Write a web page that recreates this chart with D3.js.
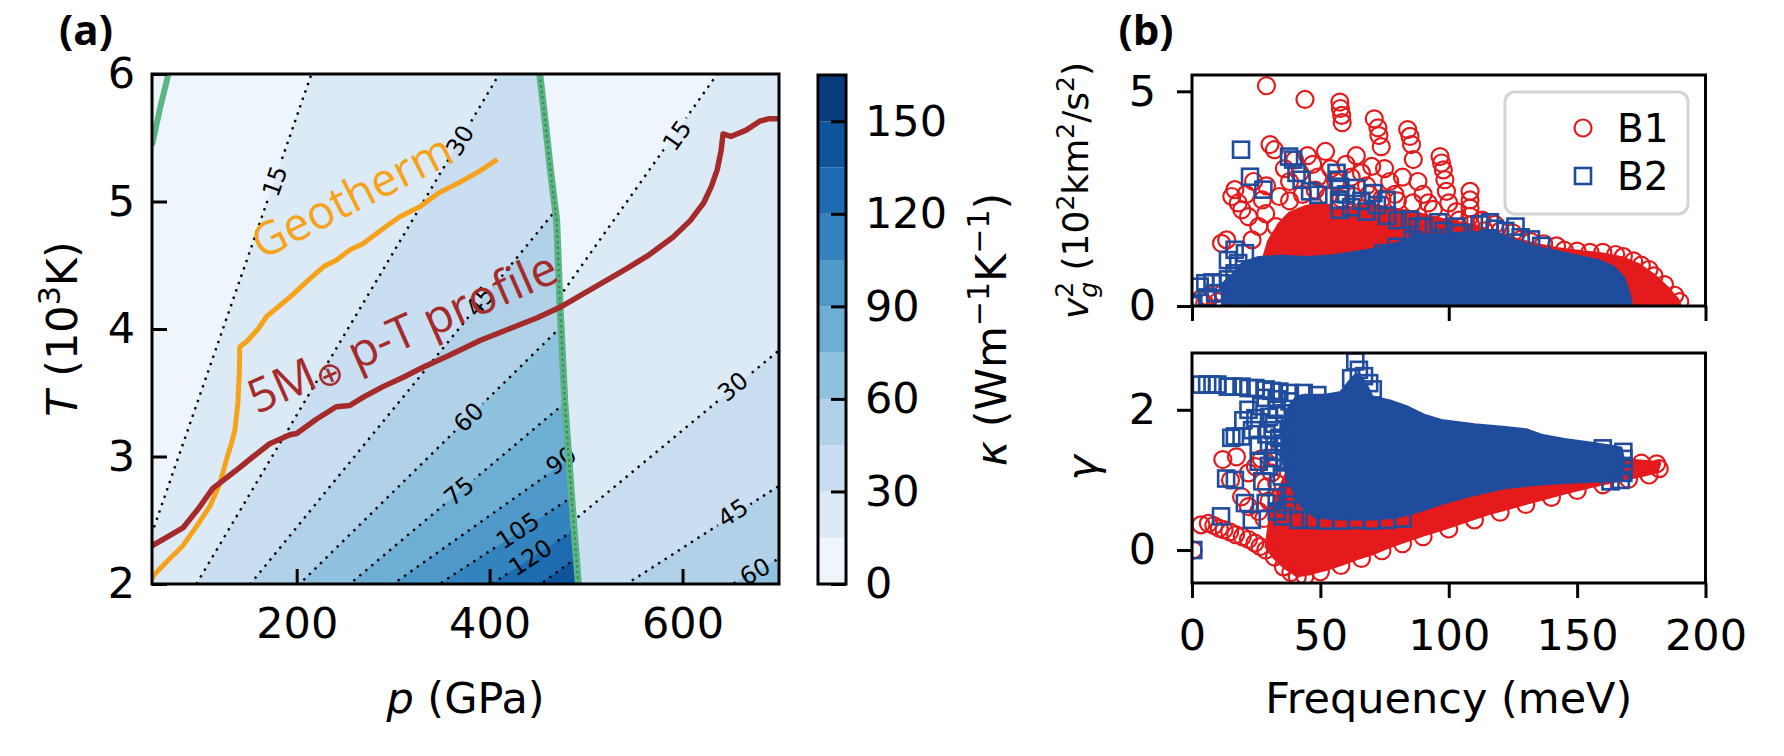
<!DOCTYPE html>
<html>
<head>
<meta charset="utf-8">
<script src="https://cdn.jsdelivr.net/npm/d3@7"></script>
<style>
  body { margin: 0; background: #fff; }
  svg { display: block; font-family: "DejaVu Sans", sans-serif; }
</style>
</head>
<body>
<script>
// ---------- panel (a): kappa map, p (GPa) vs T (10^3 K) ----------
var kappaLevels = [0, 15, 30, 45, 60, 75, 90, 105, 120, 135, 150, 165];
var colorbarTicks = [0, 30, 60, 90, 120, 150];

// dotted iso-kappa lines of the low pressure phase, [p, T] end points
var b1Levels = [15, 30, 45, 60, 75, 90, 105, 120, 135];
var b1Lines = [
  [[50, 2.40], [213, 5.95]],
  [[96, 2.00], [410, 6.00]],
  [[152, 2.00], [464, 4.89]],
  [[203, 2.00], [473, 4.01]],
  [[255, 2.00], [478, 3.42]],
  [[300, 2.00], [481, 2.97]],
  [[348, 2.00], [485, 2.68]],
  [[402, 2.00], [487, 2.42]],
  [[453, 2.00], [489, 2.20]]
];
var b1Labels = [[177, 5.16, 15], [369, 5.48, 30], [390, 4.22, 45], [378, 3.31, 60],
                [368, 2.73, 75], [474, 2.97, 90], [429, 2.42, 105], [442, 2.21, 120]];

// high pressure phase
var b2Levels = [15, 30, 45, 60];
var b2Lines = [
  [[476, 4.29], [636, 6.00]],
  [[494, 2.54], [698, 3.82]],
  [[542, 2.00], [698, 2.76]],
  [[652, 2.00], [700, 2.20]]
];
var b2Labels = [[594, 5.52, 15], [652, 3.55, 30], [652, 2.56, 45], [675, 2.10, 60]];

var phaseBoundary = [[452, 6.0], [458, 5.6], [463, 5.25], [469.5, 4.85], [473, 4.18],
                     [478, 3.42], [485, 2.68], [492, 2.0]];
var meltBoundary = [[50, 5.44], [58, 5.72], [67, 6.0]];

var geotherm = [[50, 2.04], [52, 2.07], [66, 2.18], [82, 2.30], [96, 2.45], [110, 2.61],
  [120, 2.78], [127, 2.97], [133, 3.12], [136, 3.21], [139, 3.42], [140.5, 3.65], [141, 3.86],
  [148, 3.90], [160, 4.00], [169, 4.10], [193, 4.25], [210, 4.37], [228, 4.49], [241, 4.54],
  [255, 4.62], [269, 4.67], [290, 4.79], [307, 4.88], [328, 4.96], [348, 5.07], [369, 5.15],
  [390, 5.24], [408, 5.33]];

var planetProfile = [[50, 2.30], [66, 2.37], [82, 2.44], [98, 2.59], [113, 2.75], [137, 2.89],
  [155, 3.00], [172, 3.10], [193, 3.17], [200, 3.18], [220, 3.29], [241, 3.39], [255, 3.40],
  [270, 3.47], [290, 3.55], [310, 3.62], [331, 3.70], [360, 3.80], [390, 3.91], [420, 4.00],
  [450, 4.09], [473, 4.17], [505, 4.31], [539, 4.46], [565, 4.58], [590, 4.72], [608, 4.85],
  [622, 4.99], [630, 5.12], [636, 5.25], [640, 5.40], [642, 5.53], [650, 5.51], [666, 5.56],
  [680, 5.63], [690, 5.65], [700, 5.65]];

// ---------- panel (b): phonon group velocity^2 and Grueneisen gamma ----------
// dense cores (outline of the overlapping markers) and single markers, [meV, value]
var v2B1Core = [[26, 0], [27, 0.9], [30, 1.5], [34, 1.9], [38, 2.15], [44, 2.3], [50, 2.38],
  [56, 2.25], [62, 2.28], [70, 2.35], [78, 2.25], [86, 2.18], [94, 2.05], [102, 1.95], [110, 1.85],
  [118, 1.7], [126, 1.55], [134, 1.42], [142, 1.33], [152, 1.25], [160, 1.2], [167, 1.12],
  [174, 0.95], [180, 0.7], [185, 0.42], [189, 0.15], [190, 0]];
var v2B1Points = [[29, 5.13], [44, 4.81], [57.6, 4.75], [57.8, 4.6], [58.3, 4.44], [58.5, 4.27],
  [71, 4.36], [72.4, 4.15], [72.8, 3.97], [73.7, 3.71], [84, 4.11], [84.9, 3.95], [85.5, 3.76],
  [86.2, 3.41], [96.6, 3.48], [97.2, 3.33], [97.9, 3.17], [98.5, 2.94], [99.1, 2.67],
  [108.3, 2.67], [108.3, 2.47], [108.3, 2.28], [108.3, 2.09], [108.5, 1.89],
  [30.4, 3.76], [32.1, 3.64], [16.7, 2.71], [18, 2.4], [19.4, 2.24], [22, 2.08], [27.4, 2.47],
  [28.7, 2.15], [34, 2.55], [32.7, 1.85], [26, 1.85], [23.4, 1.54], [13.5, 1.54], [11.5, 1.46],
  [15.5, 2.55], [21, 2.6], [24, 2.9], [29, 2.8],
  [36, 3.2], [38, 2.9], [40, 3.4], [42, 3.1], [45, 3.5], [47, 3.3], [49, 3.0], [52, 3.6],
  [54, 3.2], [56, 2.9], [60, 3.3], [62, 3.0], [64, 3.5], [66, 3.1], [68, 2.8], [70, 3.25],
  [75, 3.2], [77, 2.9], [79, 2.6], [82, 3.0], [88, 2.9], [90, 2.6], [92, 2.4], [100, 2.4],
  [103, 2.2], [104, 2.0], [113, 2.0], [118, 1.9], [114, 1.75], [120, 1.75], [125, 1.7],
  [128, 1.55], [132, 1.5], [137, 1.45], [142, 1.4],
  [38, 2.45], [43, 2.6], [48, 2.7], [53, 2.55], [58, 2.5], [63, 2.55], [69, 2.6], [74, 2.5],
  [80, 2.45], [86, 2.4], [94, 2.25],
  [145, 1.3], [150, 1.28], [155, 1.25], [160, 1.25], [165, 1.2], [168, 1.15], [172, 1.05],
  [175, 0.95], [178, 0.85], [180, 0.7], [184, 0.5], [188, 0.25], [190, 0.1],
  [3, 0.15], [6, 0.22], [9, 0.28], [12, 0.3], [15, 0.22], [18, 0.35], [21, 0.3], [24, 0.4],
  [5, 0.06], [10, 0.1], [0.5, 0.02]];
var v2B2Core = [[12, 0], [12, 0.5], [16, 0.72], [20, 1.0], [26, 1.12], [35, 1.15], [45, 1.12],
  [55, 1.16], [65, 1.25], [73, 1.33], [80, 1.45], [86, 1.6], [95, 1.66], [105, 1.68], [113, 1.7],
  [118, 1.7], [124, 1.55], [132, 1.38], [140, 1.28], [150, 1.15], [158, 1.05], [164, 0.9],
  [168, 0.65], [170, 0.3], [171, 0]];
var v2B2Points = [[19.1, 3.64], [22.6, 3.01], [27.8, 2.71], [37.8, 3.48], [39.4, 3.41],
  [40.7, 3.1], [42.7, 2.94], [46, 2.67], [49.2, 2.59], [56.3, 3.1], [57, 2.94], [57.6, 2.78],
  [57.3, 2.47], [57.6, 2.24], [60, 2.6], [62, 2.3], [64, 2.75], [66, 2.45], [68, 2.2],
  [70.6, 2.63], [72, 2.35], [75.8, 2.47], [76, 2.1], [80, 2.0], [84.9, 2.01], [88, 1.85],
  [90.1, 1.85], [96, 1.95], [98, 1.75], [103, 1.85], [104.4, 1.7], [112, 1.9], [116, 1.95],
  [118, 1.8], [122, 1.75], [126, 1.85], [128, 1.6], [132, 1.55], [136, 1.4], [74.5, 1.23],
  [79.7, 1.38], [86, 1.55],
  [3, 0.45], [5.2, 0.53], [8, 0.55], [11.3, 0.53], [14, 0.62], [16.6, 0.76], [20.6, 1.23],
  [16.6, 1.31], [14, 1.07], [18, 1.0], [9, 0.3], [6, 0.2], [0.5, 0.02]];

var gammaB1Core = [[29, 0.05], [32, -0.1], [36, -0.24], [41, -0.36], [46, -0.33], [52, -0.27],
  [58, -0.2], [64, -0.12], [70, -0.05], [76, 0.04], [82, 0.12], [90, 0.22], [98, 0.31],
  [106, 0.41], [115, 0.52], [125, 0.62], [135, 0.72], [145, 0.82], [155, 0.91], [165, 0.99],
  [174, 1.06], [181, 1.12], [182, 1.24], [172, 1.27], [160, 1.27], [145, 1.22], [125, 1.15],
  [100, 1.1], [80, 1.1], [62, 1.2], [50, 1.3], [42, 1.32], [37, 1.1], [34, 0.85], [31, 0.6],
  [30, 0.3]];
var gammaB1Points = [[3.5, 0.36], [6.4, 0.38], [8.5, 0.35], [10.6, 0.31], [12.5, 0.29],
  [14.7, 0.26], [17, 0.22], [19.6, 0.19], [22, 0.15], [24.5, 0.1], [26.5, 0.05], [28.7, 0.0],
  [32.1, -0.1], [35.6, -0.24], [38.5, -0.32], [41, -0.38], [44, -0.37], [50, -0.31],
  [58, -0.22], [66, -0.12], [74, -0.01], [82, 0.09], [90, 0.19], [100, 0.3], [110, 0.43],
  [120, 0.54], [130, 0.65], [140, 0.75], [150, 0.85], [160, 0.93], [170, 1.01], [178, 1.07],
  [182, 1.16], [181, 1.23], [175, 1.24],
  [12, 1.29], [17.3, 1.33], [24.7, 1.19], [19.3, 0.76], [22, 0.62], [26, 0.55], [29, 0.9],
  [31, 1.1], [27, 1.3], [22, 1.1], [15, 1.0], [34, 1.4], [38, 1.5], [42, 1.55], [46, 1.45],
  [50, 1.5], [55, 1.4], [60, 1.35], [33, 0.95], [30, 0.7], [28, 0.45], [0.5, 0.0]];
var gammaB2Core = [[44, 2.2], [52, 2.2], [58, 2.24], [61, 2.38], [64, 2.5], [67, 2.4],
  [70, 2.18], [77, 2.12], [84, 2.03], [90, 1.92], [97, 1.84], [110, 1.78], [122, 1.74],
  [130, 1.71], [136, 1.63], [145, 1.57], [155, 1.52], [162, 1.48], [167, 1.45], [168, 1.25],
  [167, 1.0], [158, 0.99], [145, 0.97], [136, 0.95], [122, 0.9], [110, 0.8], [97, 0.67],
  [88, 0.56], [80, 0.48], [70, 0.45], [58, 0.45], [48, 0.48], [43, 0.62], [39, 0.9],
  [36, 1.2], [35, 1.5], [36, 1.8], [38, 2.05], [41, 2.18]];
var gammaB2Points = [[3.5, 2.36], [5.9, 2.36], [8, 2.36], [9.9, 2.36], [13.9, 2.33], [16, 2.33],
  [19.3, 2.33], [22, 2.31], [24.7, 2.31], [28.7, 2.29], [31, 2.27], [34, 2.26], [38.1, 2.24],
  [43.5, 2.24], [48.8, 2.21], [28.7, 2.17], [33, 2.15], [38, 2.12],
  [62, 2.45], [63.6, 2.69], [65, 2.57], [67, 2.48], [69, 2.38], [70.4, 2.29],
  [24.7, 1.88], [23.4, 1.71], [19.3, 1.62], [16.7, 1.62], [15.3, 1.6], [30, 1.9], [31.4, 1.71],
  [38.1, 1.71], [35.4, 1.52], [31.4, 1.31], [26, 1.26], [16.7, 1.0], [13.3, 1.02], [27.4, 0.98],
  [20.6, 0.67], [23.3, 0.43], [11.3, 0.48], [28.7, 0.67], [35.4, 0.48], [41.5, 0.43],
  [46.2, 0.43], [33, 2.0], [36, 1.95], [40, 1.85], [42, 2.0], [36, 1.25], [40, 1.1], [38, 0.8],
  [33, 0.75], [44, 1.5], [40, 1.35], [30, 1.5], [26, 1.5], [20, 1.85], [22, 2.0], [27, 2.05],
  [34, 1.6], [32, 1.4], [35, 1.05], [37, 0.65], [30, 1.2], [32, 1.8], [29, 1.65], [33, 0.55],
  [52, 0.42], [58, 0.42], [64, 0.43], [70, 0.42], [76, 0.43], [82, 0.45],
  [168, 1.4], [168, 1.3], [168, 1.2], [168, 1.1], [167, 1.0], [163, 0.98], [160, 1.45],
  [0.5, 0.0]];

var freqTicks = [0, 50, 100, 150, 200];
var freqTicksTop = [0, 100, 200];
var seriesNames = ["B1", "B2"];

// ---------- drawing ----------
var W = 1784, H = 756;
var red = "#e41a1c", blue = "#1f4c9c", green = "#5cb585";
var orange = "#f7a21b", brown = "#a52a2a";
var tickFont = 43;

var svg = d3.select("body").append("svg").attr("width", W).attr("height", H);
var defs = svg.append("defs");

var bandColor = function(i) { return d3.interpolateBlues((i + 0.5) / (kappaLevels.length - 1)); };

// panel a frame
var A = {left: 152, right: 779, top: 74, bottom: 584};
var x = d3.scaleLinear().domain([50, 700]).range([A.left, A.right]);
var y = d3.scaleLinear().domain([2, 6]).range([A.bottom, A.top]);
var line = d3.line().x(function(d) { return x(d[0]); }).y(function(d) { return y(d[1]); });

var leftPhase = [[50, 2], [50, 6]].concat(phaseBoundary);
var rightPhase = phaseBoundary.concat([[700, 2], [700, 6]]);

defs.append("clipPath").attr("id", "clipL").append("path").attr("d", line(leftPhase) + "Z");
defs.append("clipPath").attr("id", "clipR").append("path").attr("d", line(rightPhase) + "Z");
defs.append("clipPath").attr("id", "clipA").append("rect")
  .attr("x", A.left).attr("y", A.top).attr("width", A.right - A.left).attr("height", A.bottom - A.top);

// straight iso line stretched over the whole T range so the clip decides where it ends
function stretch(seg) {
  var p0 = seg[0][0], t0 = seg[0][1], p1 = seg[1][0], t1 = seg[1][1];
  var s = (p1 - p0) / (t1 - t0);
  return [[p0 + s * (1 - t0), 1], [p0 + s * (7 - t0), 7]];
}
function rightOf(seg) {
  var e = stretch(seg);
  return [e[0], e[1], [4000, 7], [4000, 1]];
}

function drawPhase(clipId, levels, lines) {
  var g = svg.append("g").attr("clip-path", "url(#" + clipId + ")");
  g.append("rect").attr("x", A.left).attr("y", A.top)
    .attr("width", A.right - A.left).attr("height", A.bottom - A.top)
    .attr("fill", bandColor(0));
  g.selectAll("path.band").data(lines).enter().append("path")
    .attr("class", "band")
    .attr("d", function(d) { return line(rightOf(d)) + "Z"; })
    .attr("fill", function(d, i) { return bandColor(kappaLevels.indexOf(levels[i])); });
}
drawPhase("clipL", b1Levels, b1Lines);
drawPhase("clipR", b2Levels, b2Lines);

// gaps for inline contour labels
var allLabels = b1Labels.map(function(d) { return {p: d[0], t: d[1], lev: d[2], seg: b1Lines[b1Levels.indexOf(d[2])]}; })
  .concat(b2Labels.map(function(d) { return {p: d[0], t: d[1], lev: d[2], seg: b2Lines[b2Levels.indexOf(d[2])]}; }));
allLabels.forEach(function(d) {
  var dx = x(d.seg[1][0]) - x(d.seg[0][0]), dy = y(d.seg[1][1]) - y(d.seg[0][1]);
  var a = Math.atan2(dy, dx) * 180 / Math.PI;
  if (a > 90) a -= 180;
  if (a < -90) a += 180;
  d.angle = a;
  d.w = String(d.lev).length * 15.3 + 8;
});

var mask = defs.append("mask").attr("id", "labelGap").attr("maskUnits", "userSpaceOnUse")
  .attr("x", 0).attr("y", 0).attr("width", W).attr("height", H);
mask.append("rect").attr("width", W).attr("height", H).attr("fill", "white");
mask.selectAll("rect.gap").data(allLabels).enter().append("rect")
  .attr("class", "gap")
  .attr("x", function(d) { return -d.w / 2; }).attr("y", -11)
  .attr("width", function(d) { return d.w; }).attr("height", 22)
  .attr("transform", function(d) { return "translate(" + x(d.p) + "," + y(d.t) + ") rotate(" + d.angle + ")"; })
  .attr("fill", "black");

function drawIso(clipId, lines) {
  svg.append("g").attr("clip-path", "url(#" + clipId + ")")
    .append("g").attr("mask", "url(#labelGap)")
    .selectAll("path").data(lines).enter().append("path")
    .attr("d", function(d) { return line(stretch(d)); })
    .attr("fill", "none").attr("stroke", "#000")
    .attr("stroke-width", 2.4).attr("stroke-dasharray", "2.4 5.4");
}
drawIso("clipL", b1Lines);
drawIso("clipR", b2Lines);

svg.append("g").attr("clip-path", "url(#clipA)")
  .selectAll("text").data(allLabels).enter().append("text")
  .attr("transform", function(d) { return "translate(" + x(d.p) + "," + y(d.t) + ") rotate(" + d.angle + ")"; })
  .attr("text-anchor", "middle").attr("dy", "0.36em")
  .attr("font-size", 24).attr("fill", "#000")
  .text(function(d) { return d.lev; });

// phase boundaries, geotherm and planet profile
var gLines = svg.append("g").attr("clip-path", "url(#clipA)");
gLines.append("path").attr("d", line(meltBoundary))
  .attr("fill", "none").attr("stroke", green).attr("stroke-width", 6);
gLines.append("path").attr("d", line(phaseBoundary))
  .attr("fill", "none").attr("stroke", green).attr("stroke-width", 7);
gLines.append("path").attr("d", line(phaseBoundary))
  .attr("fill", "none").attr("stroke", "#3d8a5c").attr("stroke-width", 2.4)
  .attr("stroke-dasharray", "2.4 3.2");
gLines.append("path").attr("d", line(geotherm))
  .attr("fill", "none").attr("stroke", orange).attr("stroke-width", 5).attr("stroke-linejoin", "round");
gLines.append("path").attr("d", line(planetProfile))
  .attr("fill", "none").attr("stroke", brown).attr("stroke-width", 5.5).attr("stroke-linejoin", "round");

svg.append("text")
  .attr("transform", "translate(" + x(163.7) + "," + y(4.54) + ") rotate(-27)")
  .attr("font-family", "Open Sans").attr("font-size", 46).attr("fill", orange)
  .text("Geotherm");

var prof = svg.append("text")
  .attr("transform", "translate(" + x(158.5) + "," + y(3.33) + ") rotate(-23.8)")
  .attr("font-family", "Open Sans").attr("font-size", 47).attr("fill", brown);
prof.append("tspan").text("5M");
prof.append("tspan").attr("font-size", 33).attr("dy", 4).attr("font-family", "DejaVu Sans").text("\u2295");
prof.append("tspan").attr("dy", -4).text(" p-T profile");

svg.append("rect").attr("x", A.left).attr("y", A.top)
  .attr("width", A.right - A.left).attr("height", A.bottom - A.top)
  .attr("fill", "none").attr("stroke", "#000").attr("stroke-width", 3);

function styleAxis(g) {
  g.attr("font-size", tickFont).attr("font-family", "DejaVu Sans");
  g.select(".domain").remove();
  g.selectAll(".tick line").attr("stroke", "#000").attr("stroke-width", 3);
  g.selectAll(".tick text").attr("fill", "#000");
}
var intFmt = d3.format("d");

svg.append("g").attr("transform", "translate(0," + A.bottom + ")")
  .call(d3.axisBottom(x).tickValues([200, 400, 600]).tickFormat(intFmt).tickSizeInner(-15).tickSizeOuter(0).tickPadding(23))
  .call(styleAxis);
svg.append("g").attr("transform", "translate(" + A.left + ",0)")
  .call(d3.axisLeft(y).tickValues([2, 3, 4, 5, 6]).tickFormat(intFmt).tickSizeInner(-15).tickSizeOuter(0).tickPadding(17))
  .call(styleAxis);

var xl = svg.append("text").attr("x", (A.left + A.right) / 2).attr("y", 713)
  .attr("text-anchor", "middle").attr("font-size", 43);
xl.append("tspan").attr("font-style", "italic").text("p");
xl.append("tspan").text(" (GPa)");

var yl = svg.append("text").attr("transform", "translate(77," + (A.top + A.bottom) / 2 + ") rotate(-90)")
  .attr("text-anchor", "middle").attr("font-size", 43);
yl.append("tspan").attr("font-style", "italic").text("T");
yl.append("tspan").text(" (10");
yl.append("tspan").attr("font-size", 30).attr("dy", -17).text("3");
yl.append("tspan").attr("dy", 17).text("K)");

// colorbar
var CB = {left: 818, right: 846, top: 75, bottom: 584};
var cb = d3.scaleLinear().domain([0, 165]).range([CB.bottom, CB.top]);
svg.append("g").selectAll("rect").data(d3.range(kappaLevels.length - 1)).enter().append("rect")
  .attr("x", CB.left).attr("width", CB.right - CB.left)
  .attr("y", function(i) { return cb(kappaLevels[i + 1]); })
  .attr("height", function(i) { return cb(kappaLevels[i]) - cb(kappaLevels[i + 1]); })
  .attr("fill", function(i) { return bandColor(i); });
svg.append("g").attr("transform", "translate(" + CB.right + ",0)")
  .call(d3.axisRight(cb).tickValues(colorbarTicks).tickFormat(intFmt).tickSizeInner(-15).tickSizeOuter(0).tickPadding(19))
  .call(styleAxis);
svg.append("rect").attr("x", CB.left).attr("y", CB.top)
  .attr("width", CB.right - CB.left).attr("height", CB.bottom - CB.top)
  .attr("fill", "none").attr("stroke", "#000").attr("stroke-width", 3);

var kl = svg.append("text").attr("transform", "translate(1006," + (CB.top + CB.bottom) / 2 + ") rotate(-90)")
  .attr("text-anchor", "middle").attr("font-size", 43);
kl.append("tspan").attr("font-style", "italic").text("\u03ba");
kl.append("tspan").text(" (Wm");
kl.append("tspan").attr("font-size", 30).attr("dy", -17).text("\u22121");
kl.append("tspan").attr("dy", 17).text("K");
kl.append("tspan").attr("font-size", 30).attr("dy", -17).text("\u22121");
kl.append("tspan").attr("dy", 17).text(")");

// ---------- panel b ----------
var B = {left: 1192, right: 1705.5};
var vBox = {top: 75, bottom: 306}, gBox = {top: 353, bottom: 583};
var fx = d3.scaleLinear().domain([0, 200]).range([B.left, B.right]);
var yv = d3.scaleLinear().domain([0, 5.38]).range([vBox.bottom, vBox.top]);
var yg = d3.scaleLinear().domain([-0.47, 2.81]).range([gBox.bottom, gBox.top]);

function scatterPanel(id, box, sy, b1Core, b1Pts, b2Core, b2Pts) {
  defs.append("clipPath").attr("id", id).append("rect")
    .attr("x", B.left).attr("y", box.top).attr("width", B.right - B.left).attr("height", box.bottom - box.top);
  var g = svg.append("g").attr("clip-path", "url(#" + id + ")");
  var area = d3.line().x(function(d) { return fx(d[0]); }).y(function(d) { return sy(d[1]); })
    .curve(d3.curveLinearClosed);
  g.append("path").attr("d", area(b1Core))
    .attr("fill", red).attr("stroke", red).attr("stroke-width", 4).attr("stroke-linejoin", "round");
  g.selectAll("circle").data(b1Pts).enter().append("circle")
    .attr("cx", function(d) { return fx(d[0]); }).attr("cy", function(d) { return sy(d[1]); })
    .attr("r", 8.5).attr("fill", "none").attr("stroke", red).attr("stroke-width", 2.2);
  g.append("path").attr("d", area(b2Core))
    .attr("fill", blue).attr("stroke", blue).attr("stroke-width", 4).attr("stroke-linejoin", "round");
  g.selectAll("rect.sq").data(b2Pts).enter().append("rect").attr("class", "sq")
    .attr("x", function(d) { return fx(d[0]) - 8; }).attr("y", function(d) { return sy(d[1]) - 8; })
    .attr("width", 16).attr("height", 16)
    .attr("fill", "none").attr("stroke", blue).attr("stroke-width", 2.6);
  svg.append("rect").attr("x", B.left).attr("y", box.top)
    .attr("width", B.right - B.left).attr("height", box.bottom - box.top)
    .attr("fill", "none").attr("stroke", "#000").attr("stroke-width", 3);
}
scatterPanel("clipV", vBox, yv, v2B1Core, v2B1Points, v2B2Core, v2B2Points);
scatterPanel("clipG", gBox, yg, gammaB1Core, gammaB1Points, gammaB2Core, gammaB2Points);

svg.append("g").attr("transform", "translate(0," + vBox.bottom + ")")
  .call(d3.axisBottom(fx).tickValues(freqTicksTop).tickFormat("").tickSizeInner(15).tickSizeOuter(0))
  .call(styleAxis);
svg.append("g").attr("transform", "translate(0," + gBox.bottom + ")")
  .call(d3.axisBottom(fx).tickValues(freqTicks).tickFormat(intFmt).tickSizeInner(15).tickSizeOuter(0).tickPadding(21))
  .call(styleAxis);
svg.append("g").attr("transform", "translate(" + B.left + ",0)")
  .call(d3.axisLeft(yv).tickValues([0, 5]).tickFormat(intFmt).tickSizeInner(15).tickSizeOuter(0).tickPadding(21))
  .call(styleAxis);
svg.append("g").attr("transform", "translate(" + B.left + ",0)")
  .call(d3.axisLeft(yg).tickValues([0, 2]).tickFormat(intFmt).tickSizeInner(15).tickSizeOuter(0).tickPadding(21))
  .call(styleAxis);

svg.append("text").attr("x", (B.left + B.right) / 2).attr("y", 713)
  .attr("text-anchor", "middle").attr("font-size", 43).text("Frequency (meV)");

var vl = svg.append("text").attr("transform", "translate(1088," + (vBox.top + vBox.bottom) / 2 + ") rotate(-90)")
  .attr("text-anchor", "middle").attr("font-size", 36);
vl.append("tspan").attr("font-style", "italic").text("v");
vl.append("tspan").attr("font-size", 25).attr("dy", -15).text("2");
vl.append("tspan").attr("font-size", 25).attr("font-style", "italic").attr("dx", -16).attr("dy", 24).text("g");
vl.append("tspan").attr("dy", -9).text(" (10");
vl.append("tspan").attr("font-size", 25).attr("dy", -14).text("2");
vl.append("tspan").attr("dy", 14).text("km");
vl.append("tspan").attr("font-size", 25).attr("dy", -14).text("2");
vl.append("tspan").attr("dy", 14).text("/s");
vl.append("tspan").attr("font-size", 25).attr("dy", -14).text("2");
vl.append("tspan").attr("dy", 14).text(")");

svg.append("text").attr("transform", "translate(1097," + (gBox.top + gBox.bottom) / 2 + ") rotate(-90)")
  .attr("text-anchor", "middle").attr("font-size", 43).attr("font-style", "italic").text("\u03b3");

// legend
var lg = svg.append("g");
lg.append("rect").attr("x", 1505).attr("y", 92).attr("width", 183).attr("height", 122)
  .attr("rx", 10).attr("fill", "#fff").attr("fill-opacity", 0.8)
  .attr("stroke", "#d4d4d4").attr("stroke-width", 3);
lg.append("circle").attr("cx", 1583).attr("cy", 128).attr("r", 8.5)
  .attr("fill", "none").attr("stroke", red).attr("stroke-width", 2.2);
lg.append("rect").attr("x", 1575).attr("y", 168).attr("width", 16).attr("height", 16)
  .attr("fill", "none").attr("stroke", blue).attr("stroke-width", 2.6);
lg.selectAll("text").data(seriesNames).enter().append("text")
  .attr("x", 1617).attr("y", function(d, i) { return 128 + i * 48; }).attr("dy", "0.36em")
  .attr("font-size", 39).text(function(d) { return d; });

// panel letters
svg.append("text").attr("x", 86).attr("y", 45).attr("text-anchor", "middle")
  .attr("font-family", "Open Sans").attr("font-weight", "bold").attr("font-size", 42).text("(a)");
svg.append("text").attr("x", 1146).attr("y", 45).attr("text-anchor", "middle")
  .attr("font-family", "Open Sans").attr("font-weight", "bold").attr("font-size", 42).text("(b)");
</script>
</body>
</html>
